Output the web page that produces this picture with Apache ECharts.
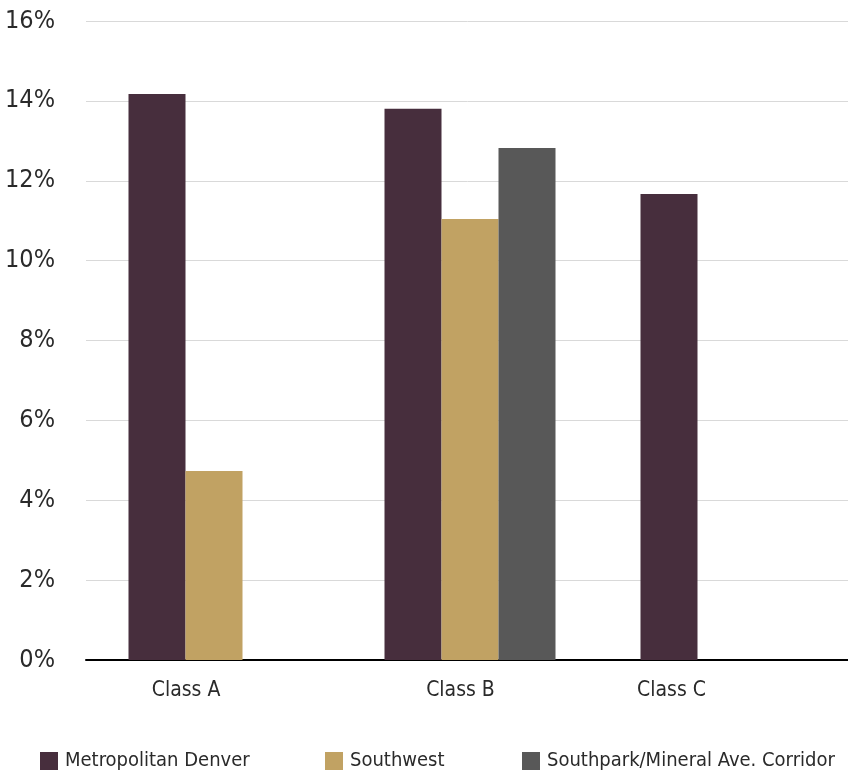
<!DOCTYPE html>
<html>
<head>
<meta charset="utf-8">
<script src="https://cdn.jsdelivr.net/npm/echarts@6/dist/echarts.min.js"></script>
<style>
html,body{margin:0;padding:0;background:#fff;}
#chart{width:848px;height:780px;}
</style>
</head>
<body>
<div id="chart"></div>
<script>
const categories = ['Class A', 'Class B', 'Class C'];
const seriesNames = ['Metropolitan Denver', 'Southwest', 'Southpark/Mineral Ave. Corridor'];
const metroDenver = [14.17, 13.80, 11.67];
const southwest = [4.73, 11.04, null];
const southpark = [null, 12.82, null];
const yTicks = { min: 0, max: 16, interval: 2 };

const FONT = "'Liberation Sans Narrow', 'DejaVu Sans Condensed', 'Arial Narrow', sans-serif";
const TEXT = '#2a2a2a';
const colors = ['#472e3d', '#c1a263', '#585858'];
const labelKeys = ['a', 'b', 'c'];
const legendLefts = [40, 325, 522];

function legendFor(i) {
  return {
    data: [seriesNames[i]],
    left: legendLefts[i],
    top: 751,
    padding: 0,
    itemWidth: 18,
    itemHeight: 18,
    icon: 'rect',
    textStyle: { fontFamily: FONT, fontSize: 20, color: TEXT, padding: [0, 0, 0, 2] }
  };
}

const chart = echarts.init(document.getElementById('chart'), null, { renderer: 'canvas' });
chart.setOption({
  animation: false,
  color: colors,
  textStyle: { fontFamily: FONT },
  grid: { left: 86, right: -6, top: 21, bottom: 120, containLabel: false, outerBoundsMode: 'none' },
  legend: [legendFor(0), legendFor(1), legendFor(2)],
  xAxis: {
    type: 'category',
    data: categories,
    axisLine: { show: true, lineStyle: { color: '#000', width: 2 } },
    axisTick: { show: false },
    axisLabel: {
      interval: 0,
      margin: 20,
      color: TEXT,
      fontFamily: FONT,
      fontSize: 21,
      formatter: function (v, i) { return '{' + labelKeys[i] + '|' + v + '}'; },
      rich: {
        a: { fontFamily: FONT, fontSize: 21, color: TEXT, padding: [0, 56, 0, 0] },
        b: { fontFamily: FONT, fontSize: 21, color: TEXT, padding: [0, 19, 0, 0] },
        c: { fontFamily: FONT, fontSize: 21, color: TEXT, padding: [0, 109, 0, 0] }
      }
    },
    splitLine: { show: false }
  },
  yAxis: {
    type: 'value',
    min: yTicks.min,
    max: yTicks.max,
    interval: yTicks.interval,
    axisLine: { show: false },
    axisTick: { show: false },
    axisLabel: {
      formatter: '{value}%',
      margin: 31,
      color: TEXT,
      fontFamily: FONT,
      fontSize: 25
    },
    splitLine: { show: true, lineStyle: { color: '#d9d9d9', width: 1 } }
  },
  series: [
    { name: seriesNames[0], type: 'bar', data: metroDenver, barWidth: 57, barGap: '0%' },
    { name: seriesNames[1], type: 'bar', data: southwest, barWidth: 57, barGap: '0%' },
    { name: seriesNames[2], type: 'bar', data: southpark, barWidth: 57, barGap: '0%' }
  ]
});
</script>
</body>
</html>
